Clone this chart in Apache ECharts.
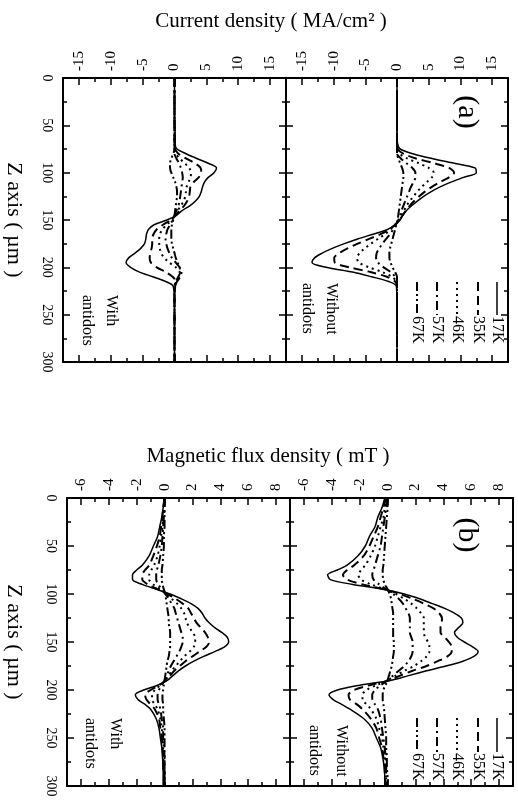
<!DOCTYPE html>
<html><head><meta charset="utf-8">
<script src="https://cdn.jsdelivr.net/npm/echarts@6/dist/echarts.min.js"></script>
<style>html,body{margin:0;padding:0;background:#fff}#c{width:518px;height:802px}</style>
</head><body><div id="c"></div>
<script>
// ---------- DATA ----------
const tempLabels = ['17K', '35K', '46K', '57K', '67K'];
const currentTicks = [-15, -10, -5, 0, 5, 10, 15];
const fluxTicks = [-6, -4, -2, 0, 2, 4, 6, 8];
// Panel (a): current density (MA/cm^2) vs Z (um)
const ZA = [0,20,40,60,70,75,80,85,90,95,100,105,110,115,120,125,130,135,140,145,150,155,160,165,170,175,180,185,190,195,200,205,210,215,220,240,270,300];
const aWith17 = [0,0,0,0.1,0.1,0.4,1.8,3.5,5.3,6.6,6.2,5.3,4.7,4.4,4.2,3.9,3.3,2.4,1.2,0.3,-1.2,-3.2,-4.1,-4.4,-4.5,-4.7,-5.3,-6.2,-7.2,-7.6,-6.9,-5.5,-3.4,-1.4,-0.2,0,0,0];
const aWith35 = [0,0,0,0,0,0.1,0.6,1.8,3.2,4.1,4.2,3.8,3.0,2.5,2.4,2.3,2.0,1.5,0.8,0.2,-0.6,-1.8,-2.8,-3.3,-3.5,-3.5,-3.6,-3.8,-3.9,-3.7,-2.8,-1.4,-0.3,0.2,0.1,0,0,0];
const aWith46 = [0,0,0,0,0,0,0.2,0.8,1.6,2.3,2.6,2.5,2.2,1.9,1.8,1.7,1.4,1.0,0.5,0.1,-0.4,-1.2,-1.9,-2.3,-2.4,-2.4,-2.3,-2.1,-1.6,-0.8,0.2,0.8,0.7,0.3,0,0,0,0];
const aWith57 = [0,0,0,0,0,0,0,0.3,0.7,1.0,1.2,1.3,1.2,1.1,1.0,0.9,0.8,0.6,0.3,0,-0.3,-0.7,-1.1,-1.3,-1.4,-1.3,-1.1,-0.8,-0.4,0.2,0.8,1.1,0.9,0.4,0.1,0,0,0];
const aWith67 = [0,0,0,0,0,0,-0.2,-0.5,-0.7,-0.7,-0.5,-0.2,0.1,0.3,0.4,0.4,0.3,0.2,0.1,0,-0.2,-0.4,-0.5,-0.5,-0.5,-0.4,-0.2,0,0.2,0.5,0.8,0.9,0.6,0.2,0,0,0,0];
const aWithout17 = [0,0,0,0,0.1,0.5,2.5,5.5,9,12.3,12.5,10.5,8.5,6.8,5.4,4.2,3.2,2.3,1.5,0.9,0.5,-0.3,-1.5,-3.8,-6.2,-8.3,-10.2,-11.8,-13,-13.4,-11.2,-7,-4.0,-1.3,-0.1,0,0,0];
const aWithout35 = [0,0,0,0,0,0.1,1.0,3.0,5.8,8.2,9.0,8.2,6.8,5.5,4.4,3.5,2.7,2.0,1.4,0.9,0.4,-0.3,-1.2,-2.6,-4.4,-6.2,-7.8,-9.1,-9.9,-9.8,-7.5,-4.2,-1.6,-0.3,0,0,0,0];
const aWithout46 = [0,0,0,0,0,0,0.4,1.6,3.4,5.0,5.8,5.5,4.7,3.9,3.2,2.6,2.0,1.5,1.1,0.7,0.3,-0.3,-1.0,-1.9,-3.0,-4.1,-5.1,-5.9,-6.3,-6.0,-4.4,-2.3,-0.8,-0.1,0,0,0,0];
const aWithout57 = [0,0,0,0,0,0,0,0.6,1.5,2.4,2.9,2.9,2.6,2.2,1.9,1.6,1.3,1.0,0.7,0.5,0.2,-0.2,-0.6,-1.1,-1.7,-2.3,-2.8,-3.2,-3.3,-3.0,-2.1,-1.0,-0.3,0,0,0,0,0];
const aWithout67 = [0,0,0,0,0,0,0,0.2,0.5,0.8,1.0,1.0,0.9,0.8,0.7,0.6,0.5,0.4,0.3,0.2,0.1,-0.1,-0.3,-0.5,-0.7,-0.9,-1.1,-1.2,-1.2,-1.0,-0.7,-0.3,0,0,0,0,0,0];
// Panel (b): magnetic flux density (mT) vs Z (um)
const ZB = [0,10,20,30,40,50,60,70,75,80,85,90,95,100,105,110,115,120,125,130,135,140,145,150,155,160,165,170,175,180,185,190,195,200,205,210,215,220,230,240,250,260,270,280,290,300];
const bWith17 = [0,-0.1,-0.2,-0.35,-0.5,-0.8,-1.1,-1.6,-2.0,-2.3,-2.3,-1.6,-0.6,0.4,1.2,1.9,2.4,2.7,2.9,3.2,3.6,4.1,4.5,4.6,4.3,3.6,2.8,2.1,1.5,1.0,0.6,0.2,-0.5,-1.5,-2.1,-1.9,-1.4,-1.0,-0.6,-0.4,-0.3,-0.2,-0.15,-0.1,-0.1,-0.1];
const bWith35 = [0,-0.1,-0.15,-0.25,-0.35,-0.55,-0.8,-1.1,-1.4,-1.6,-1.6,-1.2,-0.5,0.2,0.8,1.3,1.7,1.9,2.1,2.3,2.6,2.9,3.1,3.2,3.0,2.5,2.0,1.5,1.1,0.7,0.4,0.1,-0.4,-1.0,-1.4,-1.3,-1.0,-0.7,-0.4,-0.3,-0.2,-0.15,-0.1,-0.1,-0.05,-0.05];
const bWith46 = [0,-0.05,-0.1,-0.15,-0.25,-0.35,-0.5,-0.75,-0.95,-1.1,-1.1,-0.8,-0.3,0.1,0.5,0.9,1.2,1.4,1.5,1.6,1.8,2.0,2.2,2.2,2.1,1.8,1.4,1.1,0.8,0.5,0.3,0.05,-0.3,-0.7,-0.9,-0.9,-0.7,-0.5,-0.3,-0.2,-0.15,-0.1,-0.1,-0.05,0,0];
const bWith57 = [0,0,-0.05,-0.1,-0.15,-0.2,-0.3,-0.45,-0.55,-0.6,-0.6,-0.45,-0.2,0.05,0.3,0.5,0.7,0.8,0.9,1.0,1.1,1.2,1.3,1.3,1.2,1.05,0.85,0.65,0.45,0.3,0.15,0,-0.2,-0.4,-0.5,-0.5,-0.4,-0.3,-0.2,-0.1,-0.1,-0.05,0,0,0,0];
const bWith67 = [0,0,0,0,-0.05,-0.05,-0.1,-0.15,-0.2,-0.2,-0.2,-0.15,-0.05,0.05,0.1,0.15,0.2,0.25,0.3,0.3,0.35,0.4,0.4,0.4,0.4,0.35,0.3,0.2,0.15,0.1,0.05,0,-0.05,-0.1,-0.15,-0.15,-0.1,-0.1,-0.05,0,0,0,0,0,0,0];
const bWithout17 = [-0.2,-0.4,-0.7,-0.9,-1.3,-1.6,-2.1,-2.9,-3.6,-4.3,-4.1,-2.5,-0.3,1.2,2.3,3.2,4.1,4.8,5.3,5.4,5.1,4.8,5.0,5.5,6.1,6.5,6.2,5.4,4.2,2.8,1.5,0.2,-2.0,-3.6,-4.2,-3.9,-3.3,-2.7,-1.7,-1.1,-0.8,-0.5,-0.35,-0.25,-0.2,-0.2];
const bWithout35 = [-0.1,-0.3,-0.5,-0.7,-1.0,-1.3,-1.7,-2.4,-2.9,-3.2,-2.9,-1.8,-0.3,0.9,1.8,2.6,3.3,3.7,3.9,3.9,3.8,3.8,4.1,4.4,4.6,4.6,4.3,3.6,2.8,1.8,0.9,0.1,-1.3,-2.4,-2.8,-2.7,-2.2,-1.8,-1.2,-0.8,-0.6,-0.4,-0.3,-0.2,-0.2,-0.1];
const bWithout46 = [-0.1,-0.2,-0.3,-0.5,-0.7,-0.9,-1.2,-1.6,-1.9,-2.1,-1.9,-1.2,-0.2,0.6,1.2,1.7,2.1,2.4,2.6,2.6,2.6,2.6,2.7,2.9,3.0,3.0,2.8,2.4,1.9,1.2,0.6,0,-0.8,-1.5,-1.8,-1.8,-1.5,-1.2,-0.8,-0.6,-0.4,-0.3,-0.2,-0.15,-0.1,-0.1];
const bWithout57 = [0,-0.1,-0.2,-0.3,-0.4,-0.5,-0.7,-0.9,-1.0,-1.1,-1.0,-0.6,-0.1,0.4,0.8,1.1,1.3,1.5,1.6,1.6,1.6,1.6,1.7,1.8,1.8,1.8,1.7,1.5,1.2,0.8,0.4,0,-0.5,-0.9,-1.1,-1.1,-0.9,-0.7,-0.5,-0.4,-0.3,-0.2,-0.15,-0.1,-0.1,-0.1];
const bWithout67 = [0,0,-0.05,-0.1,-0.15,-0.2,-0.25,-0.3,-0.35,-0.35,-0.3,-0.2,0,0.15,0.25,0.3,0.35,0.4,0.4,0.4,0.4,0.4,0.4,0.45,0.45,0.45,0.4,0.35,0.3,0.2,0.1,0,-0.15,-0.3,-0.35,-0.35,-0.3,-0.25,-0.2,-0.15,-0.1,-0.1,-0.05,-0.05,0,0];

// ---------- STYLE ----------
const FONT = '"Liberation Serif", "Times New Roman", serif';
const dashes = [null, [9, 5], [2, 4], [9, 4, 2, 4], [9, 3, 2, 3, 2, 3]];
const widths = [1.5, 2, 2, 2, 2];

const grids = [
  {left: 63, top: 78, width: 223, height: 284},
  {left: 286, top: 78, width: 222, height: 284},
  {left: 67, top: 498, width: 223, height: 288},
  {left: 290, top: 498, width: 223, height: 288}
];
const ranges = [
  {min: -17.5, max: 17.5, minor: 2.5, major: currentTicks},
  {min: -17.5, max: 17.5, minor: 2.5, major: currentTicks},
  {min: -7, max: 9, minor: 1, major: fluxTicks},
  {min: -7, max: 9, minor: 1, major: fluxTicks}
];

const xAxis = [], yAxis = [];
grids.forEach((g, gi) => {
  const r = ranges[gi];
  ['top', 'bottom'].forEach((pos) => {
    xAxis.push({
      type: 'value', gridIndex: gi, position: pos, min: r.min, max: r.max, interval: r.minor,
      axisLine: {show: true, onZero: false, lineStyle: {color: '#000', width: 2}},
      axisTick: {show: true, inside: true, length: 7, customValues: r.major, lineStyle: {color: '#000', width: 1.5}},
      axisLabel: {show: pos === 'top', rotate: -90, margin: 7, color: '#000', fontFamily: FONT, fontSize: 15,
        customValues: r.major,
        formatter: (v) => (r.major.indexOf(v) >= 0 ? String(v) : '')},
      splitLine: {show: false}
    });
  });
  ['top', 'bottom'].forEach((pos) => {
    xAxis.push({
      type: 'value', gridIndex: gi, position: pos, min: r.min, max: r.max, interval: r.minor,
      axisLine: {show: false, onZero: false},
      axisTick: {show: true, inside: true, length: 4, lineStyle: {color: '#000', width: 1.5}},
      axisLabel: {show: false}, splitLine: {show: false}
    });
  });
  ['left', 'right'].forEach((pos) => {
    yAxis.push({
      type: 'value', gridIndex: gi, position: pos, inverse: true, min: 0, max: 300, interval: 50,
      axisLine: {show: true, onZero: false, lineStyle: {color: '#000', width: 2}},
      axisTick: {show: true, inside: true, length: 7, lineStyle: {color: '#000', width: 1.5}},
      minorTick: {show: true, splitNumber: 2, length: 4, lineStyle: {color: '#000', width: 1.5}},
      axisLabel: {show: pos === 'left' && (gi === 0 || gi === 2), rotate: -90, margin: 9, color: '#000', fontFamily: FONT, fontSize: 14},
      splitLine: {show: false}
    });
  });
});

const panels = [
  {z: ZA, sets: [aWith17, aWith35, aWith46, aWith57, aWith67]},
  {z: ZA, sets: [aWithout17, aWithout35, aWithout46, aWithout57, aWithout67]},
  {z: ZB, sets: [bWith17, bWith35, bWith46, bWith57, bWith67]},
  {z: ZB, sets: [bWithout17, bWithout35, bWithout46, bWithout57, bWithout67]}
];
const series = [];
panels.forEach((p, gi) => {
  p.sets.forEach((vals, k) => {
    series.push({
      type: 'line', name: tempLabels[k], xAxisIndex: gi * 4, yAxisIndex: gi * 2,
      data: vals.map((v, i) => [v, p.z[i]]),
      showSymbol: false, smooth: 0.3, silent: true, animation: false,
      lineStyle: {color: '#000', width: widths[k], type: dashes[k] || 'solid'}
    });
  });
});

function txt(x, y, text, size, rot, align, valign) {
  return {type: 'text', x: x, y: y, rotation: rot || 0,
    style: {text: text, fill: '#000', fontFamily: FONT, fontSize: size,
      align: align || 'center', verticalAlign: valign || 'middle',
      textAlign: align || 'center', textVerticalAlign: valign || 'middle'}};
}
const R = -Math.PI / 2;
const graphic = [
  txt(271, 21, 'Current density ( MA/cm² )', 21),
  txt(268, 456, 'Magnetic flux density ( mT )', 21),
  txt(14, 220, 'Z axis ( µm )', 22, R),
  txt(14, 642, 'Z axis ( µm )', 22, R),
  txt(467, 112, '(a)', 30, R),
  txt(467, 535, '(b)', 30, R),
  txt(111, 295, 'With', 16, R, 'left'),
  txt(87, 295, 'antidots', 16, R, 'left'),
  txt(331, 283, 'Without', 16, R, 'left'),
  txt(307, 283, 'antidots', 16, R, 'left'),
  txt(115, 718, 'With', 16, R, 'left'),
  txt(90, 718, 'antidots', 16, R, 'left'),
  txt(341, 725, 'Without', 16, R, 'left'),
  txt(314, 725, 'antidots', 16, R, 'left')
];
// legends drawn as rotated keys (line + label)
const legendX = [497, 478, 457, 437, 417];
[[282, 315], [718, 752]].forEach(([y1, y2]) => {
  tempLabels.forEach((t, k) => {
    graphic.push({type: 'line', shape: {x1: legendX[k], y1: y1, x2: legendX[k], y2: y2},
      style: {stroke: '#000', lineWidth: widths[k], lineDash: dashes[k] || null}});
    graphic.push(txt(legendX[k], y2 + 1, t, 16, R, 'left'));
  });
});

const chart = echarts.init(document.getElementById('c'), null, {renderer: 'canvas'});
chart.setOption({
  animation: false, backgroundColor: '#fff',
  grid: grids, xAxis: xAxis, yAxis: yAxis, series: series, graphic: graphic
});
</script></body></html>
